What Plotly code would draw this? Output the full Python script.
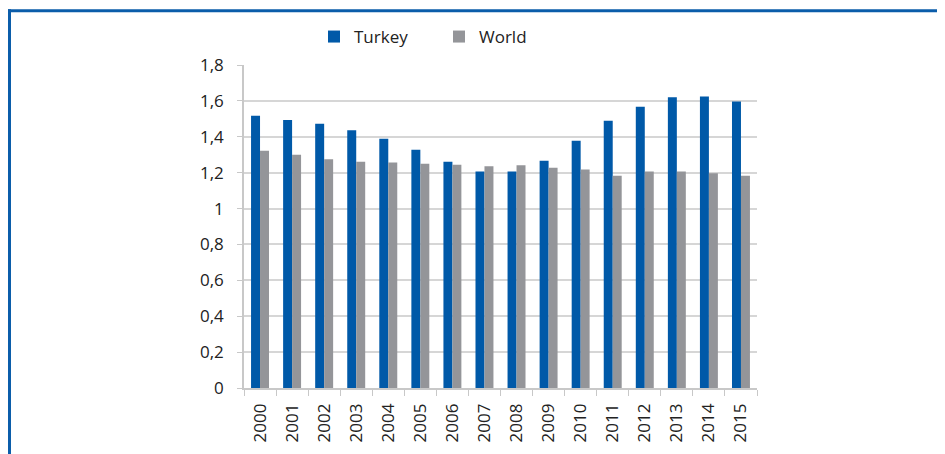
import plotly.graph_objects as go

years = ["2000", "2001", "2002", "2003", "2004", "2005", "2006", "2007",
         "2008", "2009", "2010", "2011", "2012", "2013", "2014", "2015"]
turkey = [1.517, 1.494, 1.472, 1.436, 1.389, 1.328, 1.261, 1.206,
          1.206, 1.267, 1.378, 1.489, 1.567, 1.620, 1.625, 1.597]
world = [1.322, 1.300, 1.275, 1.261, 1.256, 1.250, 1.244, 1.236,
         1.242, 1.228, 1.217, 1.183, 1.206, 1.206, 1.197, 1.183]

OFF = 8  # page body margin
W, H = 945 - OFF, 454 - OFF
# plot area in screen pixels: x 244..757, y 64..388
L, T = 244 - OFF, 64 - OFF
R = W - (757 - OFF)
B = H - (388 - OFF)
pw, ph = W - L - R, H - T - B

def px_x(p):
    return (p - OFF - L) / pw

def px_y(p):
    return (H - B - (p - OFF)) / ph

fig = go.Figure()
fig.add_trace(go.Bar(x=years, y=turkey, name="Turkey", marker_color="#0059A8",
                     marker_line_width=0))
fig.add_trace(go.Bar(x=years, y=world, name="World", marker_color="#949599",
                     marker_line_width=0))

border = "#0B5DAA"
fig.add_shape(type="line", xref="paper", yref="paper",
              x0=px_x(8), x1=px_x(960), y0=px_y(9.5), y1=px_y(9.5),
              line=dict(color=border, width=3))
fig.add_shape(type="line", xref="paper", yref="paper",
              x0=px_x(9.5), x1=px_x(9.5), y0=px_y(8), y1=px_y(470),
              line=dict(color=border, width=3))

fig.update_layout(
    width=W, height=H,
    margin=dict(l=L, r=R, t=T, b=B),
    paper_bgcolor="white", plot_bgcolor="white",
    barmode="group", bargap=0.44, bargroupgap=0,
    separators=", ",
    font=dict(family="Open Sans, Noto Sans, sans-serif", size=17, color="#222222"),
    legend=dict(orientation="h", x=px_x(314), y=px_y(37), xanchor="left", yanchor="middle",
                font=dict(size=17), itemwidth=30, traceorder="normal",
                entrywidth=80, entrywidthmode="pixels",
                itemsizing="constant", tracegroupgap=0),
    showlegend=True,
)
fig.update_yaxes(range=[0, 1.8], dtick=0.2, showgrid=True, gridcolor="#D6D6D6", gridwidth=1.5,
                 showline=True, linecolor="#C8C8C8", linewidth=1.5,
                 ticks="outside", ticklen=5, tickcolor="#C8C8C8", zeroline=False,
                 ticklabelstandoff=10)
fig.update_xaxes(type="category", tickangle=-90, showline=True, linecolor="#C8C8C8",
                 linewidth=1.5, ticks="outside", ticklen=6, tickcolor="#C8C8C8",
                 tickson="boundaries", showgrid=False, ticklabelstandoff=7)

fig.write_html("out.html")
